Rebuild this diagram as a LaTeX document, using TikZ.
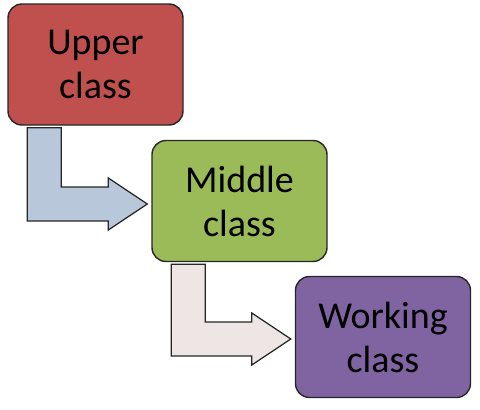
\documentclass[tikz,border=0pt]{standalone}
\usepackage{fontspec}
\setmainfont{Carlito}
\usetikzlibrary{positioning, calc}
\definecolor{upperred}{RGB}{192,80,77}
\definecolor{middlegreen}{RGB}{155,187,89}
\definecolor{workingpurple}{RGB}{128,100,162}
\definecolor{arrowblue}{RGB}{185,199,218}
\definecolor{arrowpink}{RGB}{238,229,229}
\tikzset{
  classbox/.style={draw=black!85, line width=1.4pt, rounded corners=14pt,
    minimum width=175pt, minimum height=121pt, align=center,
    font=\fontsize{38}{44}\selectfont},
  bentarrow/.style={draw=black!85, line width=1.2pt, line join=miter},
}

\begin{document}
\begin{tikzpicture}[x=1pt, y=-1pt]
    \useasboundingbox (0,0) rectangle (480,410);
    \node[classbox, fill=upperred] (upper) at (95.5,64.5) {Upper\\class};
    \node[classbox, fill=middlegreen] (middle) at (239.5,201) {Middle\\class};
    \node[classbox, fill=workingpurple] (working) at (383,337) {Working\\class};
    % bent arrows from box to box
    \coordinate (s1) at ($(upper.south west)+(20,2)$);
    \coordinate (t1) at ($(middle.west)+(-4,3)$);
    \draw[bentarrow, fill=arrowblue] (s1) -- ++(34,0) -- ($(s1 |- t1)+(34,-17)$)
      -- ($(t1)+(-39,-17)$) -- ($(t1)+(-39,-26)$) -- (t1) -- ($(t1)+(-39,26)$)
      -- ($(t1)+(-39,17)$) -- ($(s1 |- t1)+(0,17)$) -- cycle;
    \coordinate (s2) at ($(middle.south west)+(20,2)$);
    \coordinate (t2) at ($(working.west)+(-4,2)$);
    \draw[bentarrow, fill=arrowpink] (s2) -- ++(34,0) -- ($(s2 |- t2)+(34,-17)$)
      -- ($(t2)+(-39,-17)$) -- ($(t2)+(-39,-26)$) -- (t2) -- ($(t2)+(-39,26)$)
      -- ($(t2)+(-39,17)$) -- ($(s2 |- t2)+(0,17)$) -- cycle;
\end{tikzpicture}
\end{document}
